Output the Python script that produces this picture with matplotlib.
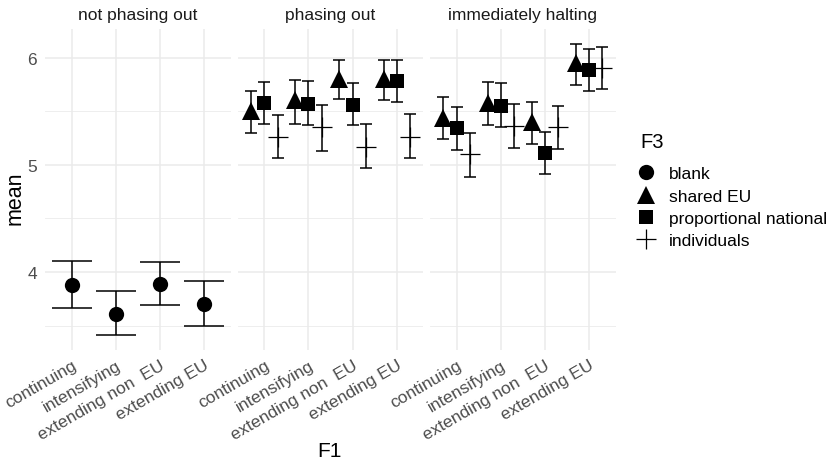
import matplotlib.pyplot as plt
from matplotlib.lines import Line2D
import numpy as np

plt.rcParams['font.family'] = ['Liberation Sans', 'DejaVu Sans']

categories = ['continuing', 'intensifying', 'extending non  EU', 'extending EU']
panels = ['not phasing out', 'phasing out', 'immediately halting']

# not phasing out -> blank only
blank_mean = [3.88, 3.61, 3.89, 3.70]
blank_lo = [3.67, 3.41, 3.69, 3.50]
blank_hi = [4.10, 3.82, 4.09, 3.92]

# phasing out
po_shared_mean = [5.50, 5.60, 5.80, 5.80]
po_shared_lo = [5.30, 5.38, 5.61, 5.60]
po_shared_hi = [5.69, 5.79, 5.98, 5.98]
po_prop_mean = [5.58, 5.57, 5.56, 5.78]
po_prop_lo = [5.38, 5.37, 5.37, 5.59]
po_prop_hi = [5.77, 5.78, 5.76, 5.98]
po_ind_mean = [5.26, 5.35, 5.17, 5.26]
po_ind_lo = [5.06, 5.13, 4.97, 5.06]
po_ind_hi = [5.46, 5.56, 5.38, 5.47]

# immediately halting
ih_shared_mean = [5.44, 5.58, 5.40, 5.95]
ih_shared_lo = [5.24, 5.37, 5.19, 5.74]
ih_shared_hi = [5.63, 5.77, 5.59, 6.13]
ih_prop_mean = [5.34, 5.55, 5.11, 5.88]
ih_prop_lo = [5.14, 5.35, 4.91, 5.69]
ih_prop_hi = [5.54, 5.76, 5.31, 6.08]
ih_ind_mean = [5.10, 5.36, 5.35, 5.90]
ih_ind_lo = [4.89, 5.16, 5.15, 5.71]
ih_ind_hi = [5.30, 5.57, 5.55, 6.10]

styles = {
    'blank': dict(marker='o', ms=11, mew=0),
    'shared EU': dict(marker='^', ms=12.5, mew=0),
    'proportional national': dict(marker='s', ms=10, mew=0),
    'individuals': dict(marker='+', ms=15, mew=0.9),
}

panel_data = [
    [('blank', blank_mean, blank_lo, blank_hi)],
    [('shared EU', po_shared_mean, po_shared_lo, po_shared_hi),
     ('proportional national', po_prop_mean, po_prop_lo, po_prop_hi),
     ('individuals', po_ind_mean, po_ind_lo, po_ind_hi)],
    [('shared EU', ih_shared_mean, ih_shared_lo, ih_shared_hi),
     ('proportional national', ih_prop_mean, ih_prop_lo, ih_prop_hi),
     ('individuals', ih_ind_mean, ih_ind_lo, ih_ind_hi)],
]

W, H = 837, 464
fig = plt.figure(figsize=(W / 100, H / 100), dpi=100)
lefts = [45.2, 237.8, 430.2]
pw = 185.5
top, bot = 30, 351
x = np.arange(1, 5)
grid_c = '#EBEBEB'

for i, ax_left in enumerate(lefts):
    ax = fig.add_axes([ax_left / W, 1 - bot / H, pw / W, (bot - top) / H])
    ax.set_xlim(0.4, 4.6)
    ax.set_ylim(3.274, 6.266)
    for s in ax.spines.values():
        s.set_visible(False)
    ax.set_yticks([4, 5, 6])
    ax.set_yticks([3.5, 4.5, 5.5], minor=True)
    ax.set_xticks(x)
    ax.grid(True, which='major', color=grid_c, lw=1.1)
    ax.grid(True, which='minor', axis='y', color=grid_c, lw=0.6)
    ax.set_axisbelow(True)
    ax.tick_params(which='both', length=0, colors='#4D4D4D', labelsize=12.5)
    ax.set_xticklabels(categories, rotation=30, ha='right', va='top',
                       rotation_mode='anchor')
    ax.tick_params(axis='x', pad=5)
    if i == 0:
        ax.tick_params(axis='y', pad=6)
    else:
        ax.set_yticklabels([])
    ax.set_title(panels[i], fontsize=12.5, color='#1A1A1A', pad=7)

    groups = panel_data[i]
    n = len(groups)
    offs = [0.0] if n == 1 else [-0.3, 0.0, 0.3]
    cap = 14.4 if n == 1 else 4.0
    for (name, m, lo, hi), o in zip(groups, offs):
        m = np.array(m)
        err = [m - np.array(lo), np.array(hi) - m]
        ax.errorbar(x + o, m, yerr=err, fmt='none', ecolor='black',
                    elinewidth=1.1, capsize=cap, capthick=1.1, zorder=2)
        ax.plot(x + o, m, ls='none', color='black', zorder=3, **styles[name])

fig.text(15.5 / W, 1 - 198 / H, 'mean', rotation=90, fontsize=15.5,
         ha='center', va='center')
fig.text(329 / W, 1 - 452 / H, 'F1', fontsize=15, ha='center', va='center')

fig.text(640 / W, 1 - 143 / H, 'F3', fontsize=14.5, ha='left', va='center')
handles = [Line2D([], [], ls='none', color='black', **styles[k]) for k in styles]
leg = fig.legend(handles, list(styles.keys()), loc='upper left',
                 bbox_to_anchor=(636 / W, 1 - 167 / H), frameon=False,
                 fontsize=12.5, handlelength=1.2,
                 handletextpad=0.7, labelspacing=0.42, borderaxespad=0,
                 borderpad=0)

fig.savefig('out.png', dpi=100, facecolor='white')
